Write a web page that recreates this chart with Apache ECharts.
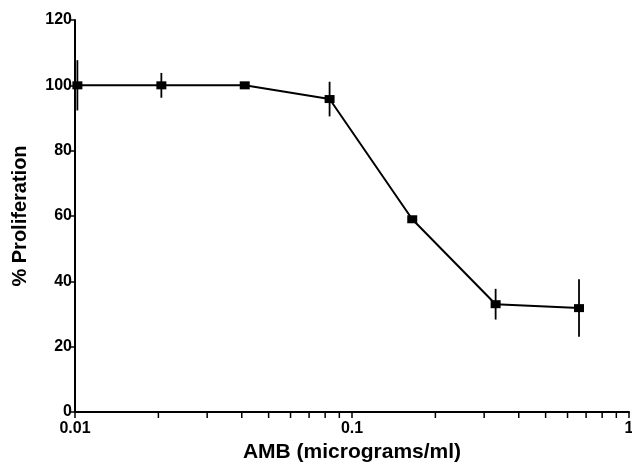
<!DOCTYPE html>
<html>
<head>
	<meta charset="utf-8">
	<title>AMB proliferation</title>
	<script type="text/javascript" src="https://cdn.jsdelivr.net/npm/echarts@6/dist/echarts.min.js"></script>
	<style>body{margin:0;background:#fff;}</style>
</head>
<body>
<div id="main" style="width: 632px; height: 463px"></div>

<script type="text/javascript">
// concentration (micrograms/ml), mean % proliferation and error (+/-)
var dose = [0.0102, 0.0205, 0.041, 0.083, 0.165, 0.33, 0.66];
var proliferation = [100, 100, 100, 95.8, 59, 33, 31.8];
var errorSize = [7.7, 3.8, 0.8, 5.3, 0.8, 4.7, 8.8];
var minorTicks = [0.02, 0.03, 0.04, 0.05, 0.06, 0.07, 0.08, 0.09, 0.2, 0.3, 0.4, 0.5, 0.6, 0.7, 0.8, 0.9];
var yTicks = [0, 20, 40, 60, 80, 100, 120];

var myChart = echarts.init(document.getElementById('main'));
var font = 'Liberation Sans, Arial, sans-serif';

var lineData = dose.map(function (d, i) { return [d, proliferation[i]]; });
var errData = dose.map(function (d, i) {
    return [d, proliferation[i] - errorSize[i], proliferation[i] + errorSize[i]];
});

option = {
    animation: false,
    backgroundColor: '#fff',
    grid: {
        left: 75,
        right: 3,
        top: 20,
        bottom: 51,
        containLabel: false,
        outerBoundsMode: 'none'
    },
    xAxis: {
        type: 'log',
        logBase: 10,
        min: 0.01,
        max: 1,
        name: 'AMB (micrograms/ml)',
        nameLocation: 'middle',
        nameGap: 28,
        nameTextStyle: {color: '#000', fontSize: 21, fontWeight: 'bold', fontFamily: font},
        axisLine: {lineStyle: {color: '#000', width: 2}},
        axisTick: {length: 6, lineStyle: {color: '#000', width: 1.5}},
        axisLabel: {
            color: '#000', fontSize: 16, fontWeight: 'bold', fontFamily: font, margin: 9,
            formatter: function (v) { return String(+v.toPrecision(3)); }
        },
        splitLine: {show: false}
    },
    yAxis: {
        type: 'value',
        min: 0,
        max: 120,
        interval: 20,
        name: '% Proliferation',
        nameLocation: 'middle',
        nameGap: 45,
        nameTextStyle: {color: '#000', fontSize: 20, fontWeight: 'bold', fontFamily: font},
        axisLine: {show: true, lineStyle: {color: '#000', width: 2}},
        axisTick: {show: true, length: 4, lineStyle: {color: '#000', width: 1.5}},
        axisLabel: {
            color: '#000', fontSize: 16, fontWeight: 'bold', fontFamily: font, margin: 3,
            formatter: function (v) { return yTicks.indexOf(v) >= 0 ? String(v) : ''; }
        },
        splitLine: {show: false}
    },
    series: [
        {
            type: 'custom',
            name: 'minor ticks',
            clip: false,
            silent: true,
            data: minorTicks.map(function (v) { return [v]; }),
            encode: {x: 0},
            renderItem: function (params, api) {
                var p = api.coord([api.value(0), 0]);
                return {
                    type: 'line',
                    shape: {x1: p[0], y1: p[1], x2: p[0], y2: p[1] + 6},
                    style: {stroke: '#000', lineWidth: 1.5}
                };
            }
        },
        {
            type: 'custom',
            name: 'error',
            clip: false,
            silent: true,
            data: errData,
            encode: {x: 0, y: [1, 2]},
            renderItem: function (params, api) {
                var lo = api.coord([api.value(0), api.value(1)]);
                var hi = api.coord([api.value(0), api.value(2)]);
                return {
                    type: 'line',
                    shape: {x1: lo[0], y1: lo[1], x2: hi[0], y2: hi[1]},
                    style: {stroke: '#000', lineWidth: 1.8}
                };
            }
        },
        {
            type: 'line',
            data: lineData,
            symbol: 'rect',
            symbolSize: [10, 8],
            lineStyle: {color: '#000', width: 2},
            itemStyle: {color: '#000'},
            z: 3
        }
    ]
};

myChart.setOption(option);
</script>
</body>
</html>
